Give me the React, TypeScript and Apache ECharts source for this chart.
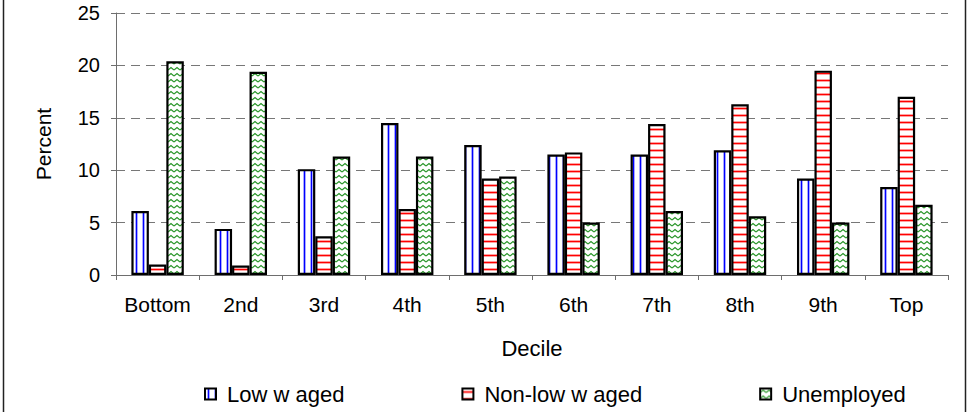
import React, { useEffect, useRef } from "react";
import * as echarts from "echarts";

// Income deciles and the share of each group falling in them (percent)
const deciles = ["Bottom", "2nd", "3rd", "4th", "5th", "6th", "7th", "8th", "9th", "Top"];
const lowWaged = [6.1, 4.4, 10.1, 14.5, 12.4, 11.5, 11.5, 11.9, 9.2, 8.4];
const nonLowWaged = [1.0, 0.9, 3.7, 6.3, 9.2, 11.7, 14.4, 16.3, 19.5, 17.0];
const unemployed = [20.4, 19.4, 11.3, 11.3, 9.4, 5.0, 6.1, 5.6, 5.0, 6.7];
const seriesNames = ["Low w aged", "Non-low w aged", "Unemployed"];
const yTicks = { min: 0, max: 25, interval: 5 };

const FONT = "'Liberation Sans', Arial, sans-serif";

// Small repeating tiles used as hatch fills for the bars
function makeTile(w: number, h: number, draw: (ctx: CanvasRenderingContext2D) => void) {
  const c = document.createElement("canvas");
  c.width = w;
  c.height = h;
  const ctx = c.getContext("2d")!;
  ctx.fillStyle = "#ffffff";
  ctx.fillRect(0, 0, w, h);
  draw(ctx);
  return c;
}

function verticalLines() {
  return makeTile(7, 4, (ctx) => {
    ctx.fillStyle = "#a8a8ff";
    ctx.fillRect(2, 0, 1, 4);
    ctx.fillRect(4, 0, 1, 4);
    ctx.fillStyle = "#0000ff";
    ctx.fillRect(3, 0, 1, 4);
  });
}

function horizontalLines() {
  return makeTile(4, 7, (ctx) => {
    ctx.fillStyle = "#ffa0a0";
    ctx.fillRect(0, 2, 4, 1);
    ctx.fillRect(0, 4, 4, 1);
    ctx.fillStyle = "#ff0000";
    ctx.fillRect(0, 3, 4, 1);
  });
}

function zigzag() {
  return makeTile(6, 6, (ctx) => {
    ctx.strokeStyle = "#2a962a";
    ctx.lineWidth = 1.2;
    ctx.beginPath();
    ctx.moveTo(0, 4);
    ctx.lineTo(3, 1.5);
    ctx.lineTo(6, 4);
    ctx.stroke();
  });
}

export default function App() {
  const ref = useRef<HTMLDivElement>(null);

  useEffect(() => {
    if (!ref.current) return;
    const chart = echarts.init(ref.current, undefined, { renderer: "svg" });

    const fills = [verticalLines(), horizontalLines(), zigzag()];
    const values = [lowWaged, nonLowWaged, unemployed];

    chart.setOption({
      animation: false,
      backgroundColor: "#ffffff",
      grid: { left: 116, right: 19, top: 13, bottom: 137, containLabel: false },
      legend: {
        left: 199,
        top: 378,
        itemGap: 117,
        itemWidth: 11,
        itemHeight: 11,
        icon: "rect",
        textStyle: { fontFamily: FONT, fontSize: 22, color: "#000", padding: [0, 0, 0, 6] },
        data: seriesNames,
      },
      xAxis: {
        type: "category",
        data: deciles,
        name: "Decile",
        nameLocation: "middle",
        nameGap: 62,
        nameTextStyle: { fontFamily: FONT, fontSize: 22, color: "#000" },
        axisLine: { lineStyle: { color: "#6e6e6e", width: 1 } },
        axisTick: { show: true, alignWithLabel: false, length: 5, lineStyle: { color: "#6e6e6e" } },
        axisLabel: { fontFamily: FONT, fontSize: 21, color: "#000", margin: 19, interval: 0 },
        splitLine: { show: false },
      },
      yAxis: {
        type: "value",
        min: yTicks.min,
        max: yTicks.max,
        interval: yTicks.interval,
        name: "Percent",
        nameLocation: "middle",
        nameGap: 62,
        nameRotate: 90,
        nameTextStyle: { fontFamily: FONT, fontSize: 21, color: "#000" },
        axisLine: { show: true, lineStyle: { color: "#6e6e6e", width: 1 } },
        axisTick: { show: true, length: 5, lineStyle: { color: "#6e6e6e" } },
        axisLabel: { fontFamily: FONT, fontSize: 20, color: "#000", margin: 16 },
        splitLine: { show: true, lineStyle: { color: "#777", type: [9, 6], width: 1 } },
      },
      series: seriesNames.map((name, i) => ({
        name,
        type: "bar",
        data: values[i],
        barWidth: "21%",
        barGap: "0%",
        itemStyle: {
          color: { image: fills[i], repeat: "repeat" },
          borderColor: "#000",
          borderWidth: 2.2,
        },
        emphasis: { disabled: true },
      })),
      graphic: [
        { type: "line", shape: { x1: 3.5, y1: 0, x2: 3.5, y2: 412 }, style: { stroke: "#222", lineWidth: 1.5 } },
        { type: "line", shape: { x1: 965.5, y1: 0, x2: 965.5, y2: 412 }, style: { stroke: "#222", lineWidth: 1.5 } },
      ],
    });

    return () => chart.dispose();
  }, []);

  return (
    <div
      ref={ref}
      style={{ position: "fixed", left: 0, top: 0, width: 967, height: 412, background: "#fff" }}
    />
  );
}
